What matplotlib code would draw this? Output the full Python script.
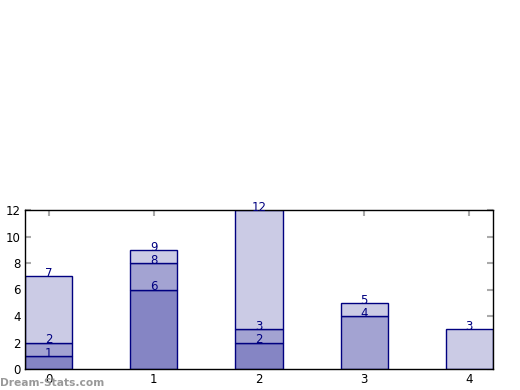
import matplotlib
matplotlib.use("Agg")
import matplotlib.pyplot as plt
import numpy as np

categories = [0, 1, 2, 3, 4]
series1 = [1, 6, 2, 0, 0]
series2 = [1, 2, 1, 4, 0]
series3 = [5, 1, 9, 1, 3]
colors = ["#8585c4", "#a3a3d2", "#cbcbe5"]

fig = plt.figure(figsize=(5.2, 3.9), dpi=100)
ax = fig.add_axes([25/520, 21/390, 468/520, 159/390])

x = np.array(categories)
bottom = np.zeros(len(x))
for vals, c in zip([series1, series2, series3], colors):
    vals = np.array(vals, dtype=float)
    ax.bar(x, vals, 0.45, bottom=bottom, color=c, edgecolor="#000080", linewidth=1, zorder=2)
    top = bottom + vals
    for xi, v, t in zip(x, vals, top):
        if v > 0:
            ax.text(xi, t + 0.2, f"{int(t)}", ha="center", va="center", color="#000080", fontsize=8.5, zorder=3)
    bottom = top

ax.set_xlim(-0.225, 4.225)
ax.set_ylim(0, 12)
ax.set_xticks(categories)
ax.set_yticks([0, 2, 4, 6, 8, 10, 12])
ax.tick_params(direction="in", color="#aaaaaa", length=4, width=1.5, labelsize=8.5, top=True, right=True, pad=3)
for s in ax.spines.values():
    s.set_color("black")
    s.set_linewidth(1)

fig.text(0.0, 0.005, "Dream-Stats.com", color="#999999", fontsize=7.7, fontweight="bold", ha="left", va="bottom")
fig.savefig("out.png", dpi=100)
